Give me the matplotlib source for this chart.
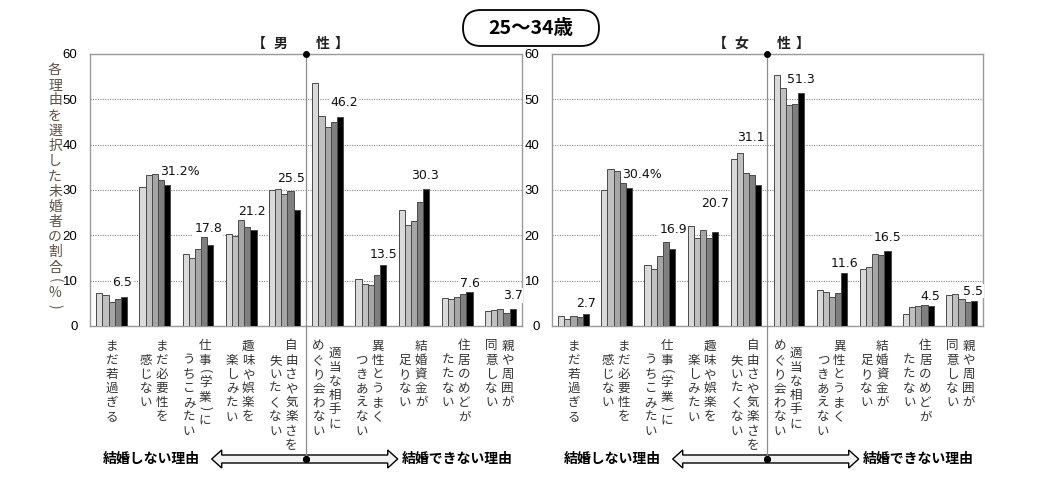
import numpy as np
import matplotlib.pyplot as plt
from matplotlib.patches import Polygon, FancyBboxPatch
from matplotlib.lines import Line2D
from matplotlib.transforms import Affine2D

plt.rcParams['font.family'] = ['Noto Sans CJK JP', 'DejaVu Sans']

W, H = 1059, 478

# reasons, each as its vertical columns (right to left)
reasons = [
    ['まだ若過ぎる'],
    ['まだ必要性を', '感じない'],
    ['仕事(学業)に', 'うちこみたい'],
    ['趣味や娯楽を', '楽しみたい'],
    ['自由さや気楽さを', '失いたくない'],
    ['適当な相手に', 'めぐり会わない'],
    ['異性とうまく', 'つきあえない'],
    ['結婚資金が', '足りない'],
    ['住居のめどが', 'たたない'],
    ['親や周囲が', '同意しない'],
]
surveys = ['1987', '1992', '1997', '2002', '2005']

# % of unmarried 25-34 choosing each reason, one row per survey
male_pct = [
    [7.3, 30.7, 15.8, 20.3, 30.0, 53.6, 10.4, 25.5, 6.2, 3.4],
    [6.9, 33.3, 15.1, 19.9, 30.2, 46.4, 9.2, 22.3, 6.0, 3.5],
    [5.3, 33.6, 16.9, 23.3, 29.1, 43.8, 9.0, 23.1, 6.5, 3.8],
    [5.9, 32.1, 19.6, 21.8, 29.8, 45.1, 11.3, 27.4, 7.0, 2.8],
    [6.5, 31.2, 17.8, 21.2, 25.5, 46.2, 13.5, 30.3, 7.6, 3.7],
]
female_pct = [
    [2.3, 30.1, 13.5, 22.1, 36.9, 55.4, 7.9, 12.6, 2.6, 6.8],
    [1.6, 34.7, 12.6, 19.5, 38.2, 52.4, 7.6, 13.0, 4.1, 7.0],
    [2.3, 34.2, 15.4, 21.1, 33.7, 48.7, 6.5, 15.9, 4.5, 6.0],
    [1.9, 31.5, 18.5, 19.5, 33.4, 49.0, 7.2, 15.7, 4.7, 5.2],
    [2.7, 30.4, 16.9, 20.7, 31.1, 51.3, 11.6, 16.5, 4.5, 5.5],
]

# label placement for the latest survey (dx in px, dy in %)
male_lab_dx = [-2, 13, -2, -2, -6, 4, 0, -1, 0, 0]
male_lab_dy = [3.0, 2.9, 3.6, 4.0, 7.0, 3.0, 2.3, 3.0, 1.8, 3.0]
female_lab_dx = [0, 13, 1, 0, -7, 0, 0, 0, 0, -1]
female_lab_dy = [2.2, 3.0, 4.3, 6.3, 10.4, 3.1, 2.1, 3.0, 2.1, 2.2]

colors = ['#dadada', '#c0c0c0', '#a6a6a6', '#7f7f7f', '#000000']

fig = plt.figure(figsize=(W / 100, H / 100), dpi=100)
# pixel coords measured from top-left
T = Affine2D().scale(1 / 100, -1 / 100).translate(0, H / 100) + fig.dpi_scale_trans


def vtext(x, y, s, pitch, small=0.6, **kw):
    # y is the centre of the first character; brackets are turned and take less room
    top = y - pitch / 2
    for ch in s:
        if ch in '()':
            h = pitch * small
            fig.text(x, top + h / 2, ch, transform=T, ha='center', va='center',
                     rotation=270, **kw)
        else:
            h = pitch
            fig.text(x, top + h / 2, ch, transform=T, ha='center', va='center', **kw)
        top += h


def panel(x0, x1, vals, lab_dx, lab_dy, divider, sex):
    ax = fig.add_axes([x0 / W, (H - 326) / H, (x1 - x0) / W, 272 / H])
    x = np.arange(len(reasons))
    w = 0.142
    for k in range(len(surveys)):
        ax.bar(x + (k - 2) * w, vals[k], w, color=colors[k],
               edgecolor='#4a4a4a', linewidth=0.7, zorder=3)
    ax.set_xlim(-0.5, 9.5)
    ax.set_ylim(0, 60)
    ax.set_xticks([])
    ax.set_yticks(range(0, 61, 10))
    ax.yaxis.grid(True, linestyle=(0, (1, 1.2)), color='#8a8a8a', linewidth=0.8)
    ax.set_axisbelow(True)
    ax.tick_params(axis='y', length=0, pad=9, labelsize=9.5)
    for t in ax.get_yticklabels():
        t.set_fontfamily(['Liberation Sans', 'DejaVu Sans'])
    for s in ax.spines.values():
        s.set_color('#9a9a9a')
        s.set_linewidth(1.0)
    unit = (x1 - x0) / 10.0
    last = vals[-1]
    for i, v in enumerate(last):
        txt = '%.1f' % v + ('%' if i == 1 else '')
        ax.text(i + 2 * w + lab_dx[i] / unit, v + lab_dy[i], txt, ha='center', va='center',
                fontsize=9, fontfamily=['DejaVu Sans'], color='#111111', zorder=4,
                bbox=dict(facecolor='white', edgecolor='none', pad=0.6))

    # category labels, vertical
    indents = [[0], [0, 1], [0, 1], [0, 1], [0, 1], [0.5, 0], [0, 1], [0, 1], [0, 1], [0, 0]]
    for i, cols in enumerate(reasons):
        cx = x0 + unit * (i + 0.5)
        offs = [0] if len(cols) == 1 else [7, -9]
        for c, col in enumerate(cols):
            vtext(cx + offs[c], 346 + indents[i][c] * 14.2, col, 14.2,
                  fontsize=9, color='#333333')

    # divider between the two kinds of reasons
    fig.add_artist(Line2D([divider, divider], [54, 458], transform=T,
                          color='#8c8c8c', linewidth=0.9))
    for yy in (54, 459):
        fig.add_artist(Line2D([divider], [yy], transform=T, marker='o',
                              markersize=4, color='black'))
    # sex header
    for dx, ch in zip([-47, -25, 17, 36], ['【', sex, '性', '】']):
        fig.text(divider + dx, 44, ch, transform=T, ha='center', va='center',
                 fontsize=10, fontweight='bold', color='#222222')
    # double arrow
    a0, a1, yc = divider - 94, divider + 92, 459
    hl, hh, sh = 10, 9, 4
    pts = [(a0, yc), (a0 + hl, yc - hh), (a0 + hl, yc - sh), (a1 - hl, yc - sh),
           (a1 - hl, yc - hh), (a1, yc), (a1 - hl, yc + hh), (a1 - hl, yc + sh),
           (a0 + hl, yc + sh), (a0 + hl, yc + hh)]
    fig.add_artist(Polygon(pts, closed=True, transform=T, facecolor='#f2f2f2',
                           edgecolor='black', linewidth=1.0, zorder=1))
    fig.add_artist(Line2D([divider], [yc], transform=T, marker='o',
                          markersize=4, color='black', zorder=3))
    fig.text(divider - 154, yc, '結婚しない理由', transform=T, ha='center', va='center',
             fontsize=10, fontweight='bold')
    fig.text(divider + 152, yc, '結婚できない理由', transform=T, ha='center', va='center',
             fontsize=10, fontweight='bold')
    return ax


panel(90, 522, male_pct, male_lab_dx, male_lab_dy, 305.7, '男')
panel(552, 983, female_pct, female_lab_dx, female_lab_dy, 766.7, '女')

# y-axis title, vertical
vtext(55, 70, '各理由を選択した未婚者の割合(%)', 15.2, small=0.7,
      fontsize=10, color='#5e5248')

# title box
fig.add_artist(FancyBboxPatch((463, 10), 136, 36, boxstyle='round,pad=0,rounding_size=18',
                              transform=T, facecolor='white', edgecolor='black', linewidth=1.3))
fig.text(531, 28, '25～34歳', transform=T, ha='center', va='center',
         fontsize=14, fontweight='bold')

fig.savefig('out.png', dpi=100)
